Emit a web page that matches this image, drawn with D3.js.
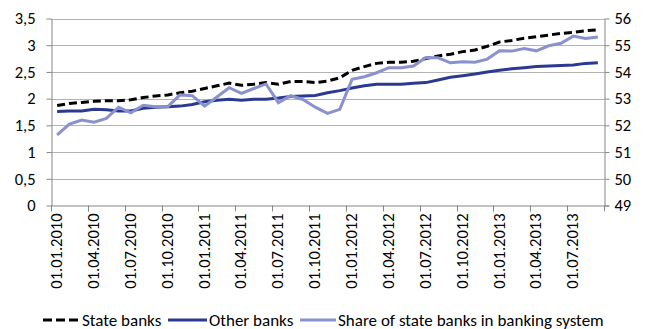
<!DOCTYPE html>
<html><head><meta charset="utf-8">
<script src="https://cdn.jsdelivr.net/npm/d3@7"></script>
<style>
body{margin:0;background:#fff}
svg text{font-family:Carlito,Lato,sans-serif;fill:#000}
</style>
</head><body><svg id="c" width="648" height="329"></svg>
<script>
const months = [
 "01.01.2010","01.02.2010","01.03.2010","01.04.2010","01.05.2010","01.06.2010","01.07.2010","01.08.2010","01.09.2010","01.10.2010","01.11.2010","01.12.2010",
 "01.01.2011","01.02.2011","01.03.2011","01.04.2011","01.05.2011","01.06.2011","01.07.2011","01.08.2011","01.09.2011","01.10.2011","01.11.2011","01.12.2011",
 "01.01.2012","01.02.2012","01.03.2012","01.04.2012","01.05.2012","01.06.2012","01.07.2012","01.08.2012","01.09.2012","01.10.2012","01.11.2012","01.12.2012",
 "01.01.2013","01.02.2013","01.03.2013","01.04.2013","01.05.2013","01.06.2013","01.07.2013","01.08.2013","01.09.2013"];
const tickLabels = ["01.01.2010","01.04.2010","01.07.2010","01.10.2010","01.01.2011","01.04.2011","01.07.2011","01.10.2011",
 "01.01.2012","01.04.2012","01.07.2012","01.10.2012","01.01.2013","01.04.2013","01.07.2013"];
const stateBanks = [1.87,1.91,1.93,1.95,1.96,1.96,1.98,2.02,2.05,2.07,2.11,2.14,2.19,2.24,
 2.29,2.25,2.27,2.30,2.27,2.32,2.32,2.30,2.33,2.39,2.53,2.60,2.66,2.68,2.68,2.70,
 2.75,2.80,2.83,2.88,2.91,2.98,3.06,3.09,3.13,3.16,3.19,3.22,3.24,3.27,3.29];
const otherBanks = [1.76,1.77,1.77,1.80,1.79,1.77,1.77,1.82,1.84,1.85,1.86,1.89,1.94,1.97,
 1.99,1.97,1.99,1.99,2.01,2.04,2.05,2.06,2.11,2.15,2.20,2.24,2.27,2.27,2.27,2.29,
 2.30,2.35,2.40,2.43,2.46,2.50,2.53,2.56,2.58,2.60,2.61,2.62,2.63,2.66,2.67];
const shareState = [51.64,52.05,52.20,52.12,52.26,52.68,52.47,52.75,52.70,52.70,53.14,53.11,52.72,53.06,
 53.41,53.20,53.38,53.55,52.85,53.11,52.97,52.68,52.45,52.60,53.72,53.82,53.97,54.16,54.16,54.22,
 54.54,54.53,54.34,54.38,54.36,54.48,54.79,54.78,54.88,54.79,54.98,55.07,55.34,55.25,55.31];
const leftTicks = [0,0.5,1,1.5,2,2.5,3,3.5];
const rightTicks = [49,50,51,52,53,54,55,56];
const seriesNames = ["State banks","Other banks","Share of state banks in banking system"];

const svg = d3.select("#c");
const L = 51, R = 604, T = 18.5, B = 205.5;
const x = d3.scaleBand().domain(months).range([L, R]).padding(0);
const y = d3.scaleLinear().domain([0, 3.5]).range([B, T]);
const y2 = d3.scaleLinear().domain([49, 56]).range([B, T]);
const cx = d => x(d) + x.bandwidth() / 2;
const fmt = d => String(d).replace(".", ",");
const axisCol = "#868686", gridCol = "#b3b3b3";
const cState = "#000000", cOther = "#2b3990", cShare = "#8a91cf";
const tickFont = 16.5, legFont = 17;

// gridlines
svg.append("g").selectAll("line").data(leftTicks.filter(d => d > 0)).join("line")
  .attr("x1", L).attr("x2", R).attr("y1", d => Math.round(y(d)) + 0.5).attr("y2", d => Math.round(y(d)) + 0.5)
  .attr("stroke", gridCol).attr("stroke-width", 1);

// left axis
const gl = svg.append("g").attr("transform", `translate(${L + 0.5},0)`)
  .call(d3.axisLeft(y).tickValues(leftTicks).tickFormat(fmt).tickSize(5).tickPadding(11).tickSizeOuter(0));
// right axis
const gr = svg.append("g").attr("transform", `translate(${R + 0.5},0)`)
  .call(d3.axisRight(y2).tickValues(rightTicks).tickFormat(d3.format("d")).tickSize(5).tickPadding(5).tickSizeOuter(0));
[gl, gr].forEach(g => {
  g.select(".domain").attr("stroke", axisCol);
  g.selectAll(".tick line").attr("stroke", axisCol);
  g.selectAll(".tick text").attr("font-size", tickFont).attr("fill", "#000");
});

// bottom axis
const gb = svg.append("g");
gb.append("line").attr("x1", L).attr("x2", R + 5).attr("y1", B + 0.5).attr("y2", B + 0.5).attr("stroke", axisCol);
const tickPos = tickLabels.map(d => x(d)).concat([R]);
gb.selectAll("line.t").data(tickPos).join("line").attr("class", "t")
  .attr("x1", d => Math.round(d) + 0.5).attr("x2", d => Math.round(d) + 0.5)
  .attr("y1", B).attr("y2", B + 6).attr("stroke", axisCol);
gb.selectAll("text").data(tickLabels).join("text")
  .attr("transform", d => `translate(${cx(d) - 1},${B + 8}) rotate(-90)`)
  .attr("text-anchor", "end").attr("dominant-baseline", "central")
  .attr("font-size", tickFont).text(d => d);

// lines
const lineL = d3.line().x((d, i) => cx(months[i])).y(d => y(d));
const lineR = d3.line().x((d, i) => cx(months[i])).y(d => y2(d));
svg.append("path").datum(stateBanks).attr("d", lineL).attr("fill", "none")
  .attr("stroke", cState).attr("stroke-width", 3).attr("stroke-dasharray", "8,4");
svg.append("path").datum(otherBanks).attr("d", lineL).attr("fill", "none")
  .attr("stroke", cOther).attr("stroke-width", 3);
svg.append("path").datum(shareState).attr("d", lineR).attr("fill", "none")
  .attr("stroke", cShare).attr("stroke-width", 3);

// legend
const ly = 320;
const leg = [
  {name: seriesNames[0], x1: 43, x2: 80, c: cState, dash: "9,4"},
  {name: seriesNames[1], x1: 168, x2: 207, c: cOther, dash: null},
  {name: seriesNames[2], x1: 300, x2: 336, c: cShare, dash: null}
];
const lg = svg.append("g");
leg.forEach(l => {
  lg.append("line").attr("x1", l.x1).attr("x2", l.x2).attr("y1", ly).attr("y2", ly)
    .attr("stroke", l.c).attr("stroke-width", 3).attr("stroke-dasharray", l.dash);
  lg.append("text").attr("x", l.x2 + 2).attr("y", ly).attr("dominant-baseline", "central")
    .attr("font-size", legFont).text(l.name);
});
</script>
</body></html>
